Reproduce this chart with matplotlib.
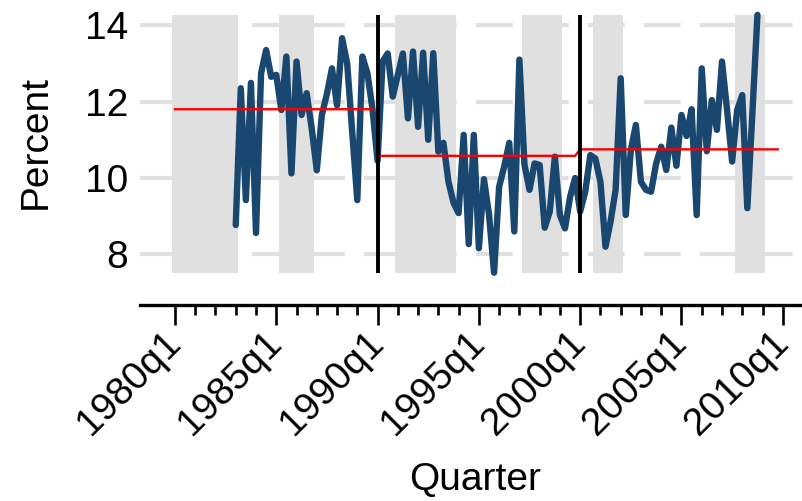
import numpy as np
import matplotlib
matplotlib.use("Agg")
from matplotlib import pyplot as plt

plt.rcParams['font.family'] = ['Liberation Sans', 'DejaVu Sans']
plt.rcParams['lines.scale_dashes'] = False

# quarterly series, starts 1983q1
series_start = '1983q1'
values = [
    8.77, 12.35, 9.42, 12.49, 8.56, 12.74, 13.35, 12.65,
    12.70, 11.78, 13.18, 10.12, 13.05, 11.65, 12.22, 11.3,
    10.2, 11.65, 12.2, 12.87, 11.9, 13.66, 13.0, 11.2,
    9.42, 13.18, 12.74, 11.8, 10.45, 13.05, 13.26, 12.13,
    12.7, 13.26, 11.56, 13.31, 11.34, 13.28, 11.0, 13.27,
    10.69, 10.92, 9.9, 9.35, 9.08, 11.13, 8.27, 11.13,
    8.16, 9.97, 9.05, 7.52, 9.77, 10.3, 10.92, 8.6,
    13.1, 10.35, 9.69, 10.38, 10.34, 8.7, 9.12, 10.56,
    9.03, 8.68, 9.5, 10.0, 9.12, 9.64, 10.6, 10.51,
    9.9, 8.2, 8.86, 9.69, 12.61, 9.03, 10.73, 11.39,
    9.9, 9.69, 9.64, 10.38, 10.82, 10.21, 11.32, 10.32,
    11.65, 11.1, 11.8, 9.03, 12.87, 10.7, 12.04, 11.26,
    13.05, 11.78, 10.43, 11.78, 12.17, 9.21, 11.7, 14.27,
]

# regime means (red line); joined = connected to the previous regime
regime_start = ['1980q1', '1990q1', '2000q1']
regime_end = ['1989q4', '1999q4', '2009q4']
regime_mean = [11.8, 10.58, 10.75]
regime_joined = [False, False, True]

# break lines
breaks = ['1990q1', '2000q1']

# shaded periods
shade_start = ['1980q1', '1985q2', '1991q1', '1997q2', '2000q4', '2007q4']
shade_end = ['1983q1', '1986q4', '1993q4', '1999q1', '2002q1', '2009q1']

tick_labels = ['1980q1', '1985q1', '1990q1', '1995q1', '2000q1', '2005q1', '2010q1']


def qidx(s):
    y, q = s.split('q')
    return (int(y) - 1980) * 4 + int(q) - 1


x = qidx(series_start) + np.arange(len(values))
y = np.array(values)
ymin, ymax = y.min(), y.max()

rx, ry = [], []
for s, e, m, j in zip(regime_start, regime_end, regime_mean, regime_joined):
    if rx and not j:
        rx.append(np.nan)
        ry.append(np.nan)
    for q in range(qidx(s), qidx(e) + 1):
        rx.append(q)
        ry.append(m)

fig = plt.figure(figsize=(8.03, 5.01), dpi=100)
ax = fig.add_axes([140 / 803, 196 / 501, 660 / 803, 305 / 501])

for s, e in zip(shade_start, shade_end):
    ax.fill_between([qidx(s) - 0.5, qidx(e) + 0.5], ymin, ymax,
                    color='#e0e0e0', linewidth=0, zorder=1)

ax.set_yticks([8, 10, 12, 14])
ax.yaxis.grid(True, color='#e0e0e0', linewidth=3, linestyle=(0, (26.6, 13.7)), zorder=0)
ax.set_axisbelow(True)

ax.plot(x, y, color='#1a476f', linewidth=4.6, solid_joinstyle='round',
        solid_capstyle='round', zorder=3)
ax.plot(rx, ry, color='red', linewidth=1.7, zorder=4)
ax.vlines([qidx(b) for b in breaks], ymin, ymax, color='black', linewidth=2.8, zorder=5)

ax.set_xlim(-6.9, 123.4)
ax.set_ylim(6.675, 14.66)

ax.set_xticks([qidx(t) for t in tick_labels])
ax.set_xticklabels(tick_labels, rotation=45, ha='right', va='center',
                   rotation_mode='anchor', fontsize=28)
ax.set_xticks(np.arange(0, 121, 4), minor=True)
ax.tick_params(axis='x', which='major', length=14.4, width=1.9, pad=9)
ax.tick_params(axis='x', which='minor', length=7.2, width=1.9)
ax.tick_params(axis='y', length=0, pad=8.6, labelsize=28)

for side in ['top', 'right', 'left']:
    ax.spines[side].set_visible(False)
ax.spines['bottom'].set_linewidth(2.4)

ax.set_ylabel('Percent', fontsize=28, va='center')
ax.yaxis.set_label_coords(-0.158, 0.534)
ax.set_xlabel('Quarter', fontsize=28, va='baseline')
ax.xaxis.set_label_coords(0.508, -0.608)

fig.savefig('out.png', dpi=100)
